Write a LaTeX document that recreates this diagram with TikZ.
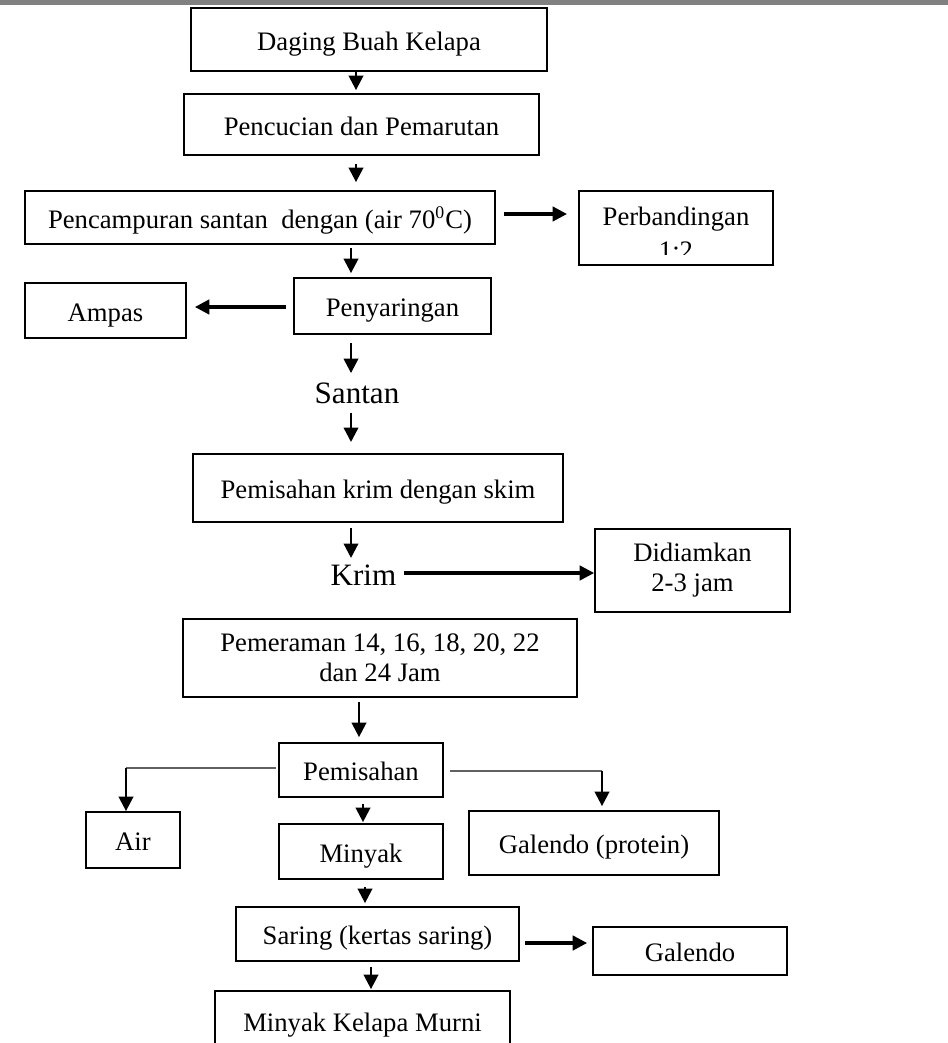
\documentclass[tikz,border=0pt]{standalone}
\usepackage{fontspec}
\setmainfont{Liberation Serif}
\usepackage{tikz}
\usetikzlibrary{arrows.meta, positioning, calc}
\tikzset{
  procbox/.style={rectangle, draw=black, line width=0.8pt, align=center, inner sep=0pt,
              font=\fontsize{12}{13.5}\selectfont},
  onebox/.style={procbox, text height=9.5pt, text depth=0pt},
  boxtext/.style={inner sep=0pt, font=\fontsize{12}{13.5}\selectfont},
  flowlabel/.style={inner sep=0pt, anchor=base, font=\fontsize{14}{16}\selectfont},
  arrow/.style={-{Triangle[length=6.5pt, width=6.5pt]}, line width=1.1pt, draw=black},
  thickarrow/.style={arrow, line width=1.4pt},
  splitline/.style={draw=black!62, line width=0.5pt},
}

\begin{document}
\begin{tikzpicture}[x=0.45pt, y=-0.45pt]
  \useasboundingbox (0,0) rectangle (948,1043);
  \clip (0,0) rectangle (948,1043);
  \fill[gray] (0,0) rectangle (948,5);

  % main column
  \node[onebox, minimum width=160.2pt, minimum height=28.35pt] (daging) at (369,39.5) {Daging Buah Kelapa};
  \node[onebox, minimum width=159.75pt, minimum height=27.45pt] (pencucian) at (361.5,124.5) {Pencucian dan Pemarutan};
  \node[onebox, minimum width=211.5pt, minimum height=23.85pt] (pencampuran) at (260,217.5) {Pencampuran santan~ dengan (air 70\textsuperscript{0}C)};
  \node[procbox, minimum width=87.3pt, minimum height=33.3pt] (perbandingan) at (676,228) {};
  \node[boxtext] (perbtext) at (676,219) {Perbandingan};
  \begin{scope}
    \clip (perbandingan.north west) rectangle (perbandingan.east |- 0,255);
    \node[boxtext] (rasio) at (676,251) {1:2};
  \end{scope}
  \node[onebox, minimum width=88.65pt, minimum height=25.2pt] (penyaringan) at (392.5,306) {Penyaringan};
  \node[onebox, minimum width=72.45pt, minimum height=24.75pt] (ampas) at (105.5,310.5) {Ampas};
  \node[flowlabel] (santan) at (357,403) {Santan};
  \node[onebox, minimum width=166.5pt, minimum height=30.6pt] (pemkrim) at (378,488) {Pemisahan krim dengan skim};
  \node[flowlabel] (krim) at (363.5,585) {Krim};
  \node[procbox, minimum width=87.75pt, minimum height=37.35pt] (didiamkan) at (692.5,570.5) {Didiamkan\\2-3 jam};
  \node[procbox, minimum width=177.3pt, minimum height=35.1pt] (pemeraman) at (380,658) {Pemeraman 14, 16, 18, 20, 22\\dan 24 Jam};

  % pemisahan and products
  \node[onebox, minimum width=73.8pt, minimum height=24.3pt] (pemisahan) at (361,770) {Pemisahan};
  \node[onebox, minimum width=42.3pt, minimum height=25.2pt] (air) at (133,840) {Air};
  \node[onebox, minimum width=73.8pt, minimum height=24.75pt] (minyak) at (361,851.5) {Minyak};
  \node[onebox, minimum width=112.5pt, minimum height=28.8pt] (galprotein) at (594,843) {Galendo (protein)};
  \node[onebox, minimum width=127.35pt, minimum height=24.3pt] (saring) at (377.5,934) {Saring (kertas saring)};
  \node[onebox, minimum width=87.3pt, minimum height=21.6pt] (galendo) at (690,951) {Galendo};
  \node[onebox, minimum width=132.75pt, minimum height=27pt] (murni) at (362.5,1021) {Minyak Kelapa Murni};

  % arrows
  \draw[arrow, shorten >=1.35pt] (daging.south -| 356,0) -- (pencucian.north -| 356,0);
  \draw[arrow, shorten <=3.6pt, shorten >=3.6pt] (pencucian.south -| 356,0) -- (pencampuran.north -| 356,0);
  \draw[thickarrow, shorten <=3.6pt, shorten >=5pt] (pencampuran.east |- 0,214) -- (perbandingan.west |- 0,214);
  \draw[arrow, shorten <=1.35pt, shorten >=1.8pt] (pencampuran.south -| 351,0) -- (penyaringan.north -| 351,0);
  \draw[thickarrow, shorten <=3.15pt, shorten >=3.6pt] (penyaringan.west |- 0,307) -- (ampas.east |- 0,307);
  \draw[arrow, shorten <=3.6pt, shorten >=4pt] (penyaringan.south -| 351,0) -- (santan.north -| 351,0);
  \draw[arrow, shorten <=4pt, shorten >=5pt] (santan.south -| 351,0) -- (pemkrim.north -| 351,0);
  \draw[arrow, shorten <=2.25pt, shorten >=2.7pt] (pemkrim.south -| 351,0) -- (krim.north -| 351,0);
  \draw[thickarrow, shorten <=3.15pt] (krim.east |- 0,573) -- (didiamkan.west |- 0,573);
  \draw[arrow, shorten <=1.8pt, shorten >=2.25pt] (pemeraman.south -| 359,0) -- (pemisahan.north -| 359,0);

  \draw[splitline, shorten <=0.9pt] (pemisahan.west |- 0,768) -- (126,768) coordinate (airturn);
  \draw[arrow] (airturn) -- (air.north -| airturn);
  \draw[splitline, shorten <=2.7pt] (pemisahan.east |- 0,771) -- (602,771) coordinate (galturn);
  \draw[arrow, shorten >=1.8pt] (galturn) -- (galprotein.north -| galturn);

  \draw[arrow, shorten <=2.7pt, shorten >=0.45pt] (pemisahan.south -| 363,0) -- (minyak.north -| 363,0);
  \draw[arrow, shorten <=3.15pt, shorten >=1.35pt] (minyak.south -| 365,0) -- (saring.north -| 365,0);
  \draw[thickarrow, shorten <=2.25pt, shorten >=2.25pt] (saring.east |- 0,943) -- (galendo.west |- 0,943);
  \draw[arrow, shorten <=2.25pt, shorten >=0.45pt] (saring.south -| 371,0) -- (murni.north -| 371,0);
\end{tikzpicture}
\end{document}
